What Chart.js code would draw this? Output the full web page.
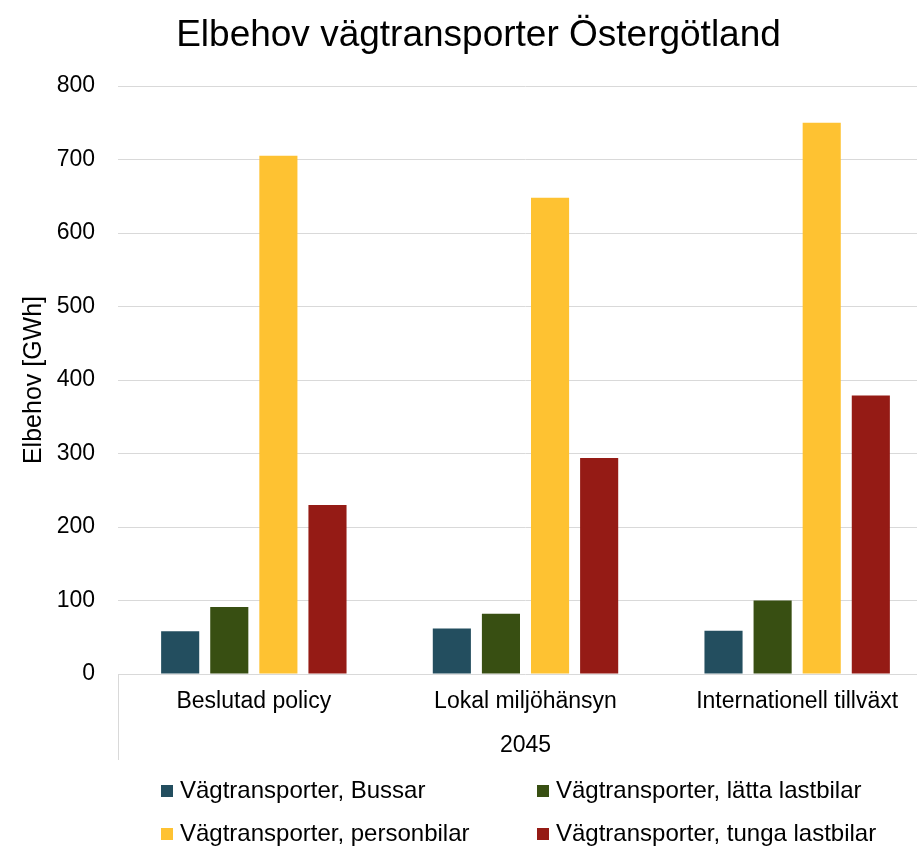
<!DOCTYPE html>
<html>
<head>
<meta charset="utf-8">
<script src="https://cdn.jsdelivr.net/npm/chart.js@4.4.1/dist/chart.umd.min.js"></script>
<style>
  html, body { margin: 0; padding: 0; background: #fff; overflow: hidden; }
  #wrap { width: 917px; height: 846px; overflow: hidden; }
</style>
</head>
<body>
<div id="wrap"><canvas id="chart" width="957" height="846"></canvas></div>
<script>
'use strict';
// data
var categories = ['Beslutad policy', 'Lokal miljöhänsyn', 'Internationell tillväxt'];
var yearLabel = '2045';
var seriesNames = [
  'Vägtransporter, Bussar',
  'Vägtransporter, lätta lastbilar',
  'Vägtransporter, personbilar',
  'Vägtransporter, tunga lastbilar'
];
var bussar = [58, 62, 59];
var lattaLastbilar = [91, 82, 100];
var personbilar = [705, 648, 750];
var tungaLastbilar = [230, 294, 379];
var yTickMin = 0;
var yTickMax = 800;
var yTickStep = 100;

var colors = ['#234e5f', '#384f12', '#fec232', '#951b15'];
var FONT = '"Liberation Sans", Arial, sans-serif';
var GRID = '#d9d9d9';

// legend is drawn as a 2x2 grid like the original
var gridLegend = {
  id: 'gridLegend',
  afterDraw: function(chart) {
    var ctx = chart.ctx;
    var cols = [161, 537];
    var rows = [791, 834];
    ctx.save();
    ctx.font = '24px ' + FONT;
    ctx.textBaseline = 'middle';
    ctx.textAlign = 'left';
    chart.data.datasets.forEach(function(ds, i) {
      var x = cols[i % 2], y = rows[Math.floor(i / 2)];
      ctx.fillStyle = ds.backgroundColor;
      ctx.fillRect(x, y - 6, 12, 12);
      ctx.fillStyle = '#000';
      ctx.fillText(ds.label, x + 19, y);
    });
    ctx.restore();
  }
};

// vertical separator line at the left of the category axis
var catSeparator = {
  id: 'catSeparator',
  afterDraw: function(chart) {
    var xs = chart.scales.x;
    var ctx = chart.ctx;
    ctx.save();
    ctx.strokeStyle = GRID;
    ctx.lineWidth = 1;
    ctx.beginPath();
    ctx.moveTo(Math.round(xs.left) + 0.5, xs.top);
    ctx.lineTo(Math.round(xs.left) + 0.5, xs.bottom);
    ctx.moveTo(Math.round(xs.right) - 0.5, xs.top);
    ctx.lineTo(Math.round(xs.right) - 0.5, xs.bottom);
    ctx.stroke();
    ctx.restore();
  }
};

var seriesValues = [bussar, lattaLastbilar, personbilar, tungaLastbilar];

new Chart(document.getElementById('chart'), {
  type: 'bar',
  data: {
    labels: categories,
    datasets: seriesValues.map(function(vals, i) {
      return {
        label: seriesNames[i],
        data: vals,
        backgroundColor: colors[i],
        categoryPercentage: 0.723,
        barPercentage: 0.776
      };
    })
  },
  options: {
    responsive: false,
    animation: false,
    layout: { padding: { left: 0, right: 0, top: 0, bottom: 86 } },
    plugins: {
      legend: { display: false },
      tooltip: { enabled: false },
      title: {
        display: true,
        text: 'Elbehov vägtransporter Östergötland',
        color: '#000',
        font: { family: FONT, size: 37, weight: 'normal' },
        padding: { top: 14, bottom: 27.6 }
      }
    },
    scales: {
      x: {
        grid: { display: false, drawTicks: false },
        border: { display: false },
        ticks: { color: '#000', font: { family: FONT, size: 23 }, padding: 14 },
        title: {
          display: true,
          text: yearLabel,
          color: '#000',
          font: { family: FONT, size: 23 },
          padding: { top: 0, bottom: 1 }
        },
        afterFit: function(s) { s.height = 86; }
      },
      y: {
        min: yTickMin,
        max: yTickMax,
        ticks: { stepSize: yTickStep, color: '#000', font: { family: FONT, size: 23 }, padding: 23 },
        grid: { color: GRID, drawTicks: false },
        border: { display: false },
        title: {
          display: true,
          text: 'Elbehov [GWh]',
          color: '#000',
          font: { family: FONT, size: 25 },
          padding: { top: 19, bottom: 0 }
        },
        afterFit: function(s) { s.width = 118; }
      },
      yR: {
        position: 'right',
        display: true,
        grid: { display: false },
        border: { display: false },
        ticks: { display: false },
        afterFit: function(s) { s.width = 24; }
      }
    }
  },
  plugins: [gridLegend, catSeparator]
});
</script>
</body>
</html>
